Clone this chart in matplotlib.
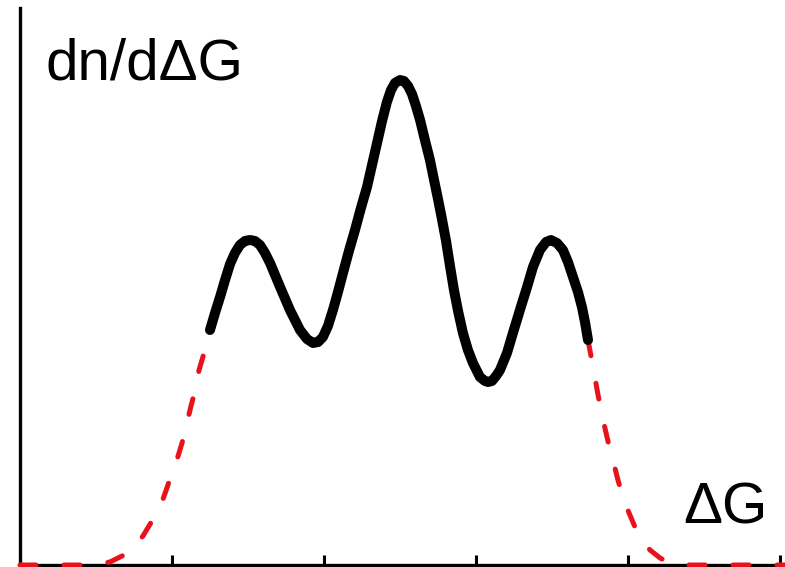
import matplotlib
matplotlib.use("Agg")
import matplotlib.pyplot as plt

# Distribution dn/dΔG (arbitrary units): measured central part and extrapolated tails
left_tail_x = [0.0, 3.62, 4.74, 5.92, 7.24, 8.09, 8.88, 9.41, 9.87, 10.26, 10.66,
               10.92, 11.25, 11.51, 11.78, 12.11, 12.50]
left_tail_y = [0.0, 0.0, 0.0, 0.3, 1.3, 2.9, 4.9, 6.6, 8.6, 10.2, 12.2,
               13.8, 15.9, 17.4, 19.5, 21.2, 23.5]

main_x = [12.50, 12.83, 13.16, 13.49, 13.82, 14.14, 14.47, 14.80, 15.13, 15.46,
          15.79, 16.12, 16.45, 17.11, 17.76, 18.42, 18.88, 19.28, 19.61, 19.93,
          20.26, 20.59, 20.92, 21.25, 21.64, 22.04, 22.43, 22.83, 23.16, 23.49,
          23.82, 24.14, 24.41, 24.67, 25.00, 25.26, 25.53, 25.79, 26.05, 26.32,
          26.64, 26.97, 27.24, 27.50, 27.76, 28.03, 28.29, 28.55, 28.82, 29.14,
          29.47, 29.80, 30.26, 30.59, 30.79, 31.05, 31.32, 31.58, 32.04, 32.43,
          32.89, 33.36, 33.75, 34.21, 34.61, 34.93, 35.33, 35.72, 36.05, 36.38,
          36.71, 36.97, 37.17, 37.37]
main_y = [23.5, 25.2, 26.8, 28.5, 30.1, 31.2, 32.0, 32.4, 32.5, 32.4,
          32.0, 31.2, 30.2, 27.8, 25.5, 23.5, 22.6, 22.2, 22.3, 22.8,
          23.9, 25.5, 27.3, 29.2, 31.4, 33.5, 35.7, 37.8, 40.0, 42.2,
          44.4, 46.3, 47.5, 48.2, 48.5, 48.4, 47.9, 47.1, 45.9, 44.5,
          42.5, 40.5, 38.5, 36.6, 34.6, 32.4, 29.9, 27.5, 25.4, 23.2,
          21.5, 20.2, 18.8, 18.4, 18.3, 18.4, 18.9, 19.5, 21.2, 23.2,
          25.5, 27.8, 29.8, 31.5, 32.3, 32.5, 32.2, 31.5, 30.3, 28.8,
          27.3, 25.8, 24.3, 22.5]

right_tail_x = [37.37, 37.70, 38.03, 38.36, 38.68, 39.01, 39.34, 39.67, 40.07,
                40.46, 40.92, 41.45, 42.11, 42.76, 43.88, 50.33]
right_tail_y = [22.5, 19.8, 17.0, 14.5, 12.4, 10.5, 8.5, 6.8, 5.2,
                3.8, 2.5, 1.5, 0.7, 0.2, 0.0, 0.0]

tick_positions = [10, 20, 30, 40, 50]

W, H = 785, 567
fig = plt.figure(figsize=(W / 100, H / 100), dpi=100)
ax = fig.add_axes([20 / W, 2 / H, 765 / W, 557 / H])
ax.set_xlim(0, 50.33)
ax.set_ylim(0, 55.7)

red = "#e8121c"
for tx, ty in ((left_tail_x, left_tail_y), (right_tail_x, right_tail_y)):
    ax.plot(tx, ty, color=red, lw=3.6, linestyle=(0, (3.2, 5.6)),
            dash_capstyle="round", clip_on=False, zorder=4)
ax.plot(main_x, main_y, color="black", lw=7.2, solid_capstyle="round",
        solid_joinstyle="round", zorder=5)

for side in ("top", "right"):
    ax.spines[side].set_visible(False)
for side in ("left", "bottom"):
    ax.spines[side].set_linewidth(2.4)
    ax.spines[side].set_color("black")

ax.set_xticks(tick_positions)
ax.set_xticklabels([])
ax.tick_params(axis="x", direction="in", length=7.5, width=2.2, color="black")
ax.set_yticks([])

font = "Liberation Sans"
fig.text(45 / W, 1 - 80 / H, "dn/dΔG", fontsize=42, family=font,
         ha="left", va="baseline")
fig.text(683 / W, 1 - 523 / H, "ΔG", fontsize=42, family=font,
         ha="left", va="baseline")

fig.savefig("out.png", dpi=100)
